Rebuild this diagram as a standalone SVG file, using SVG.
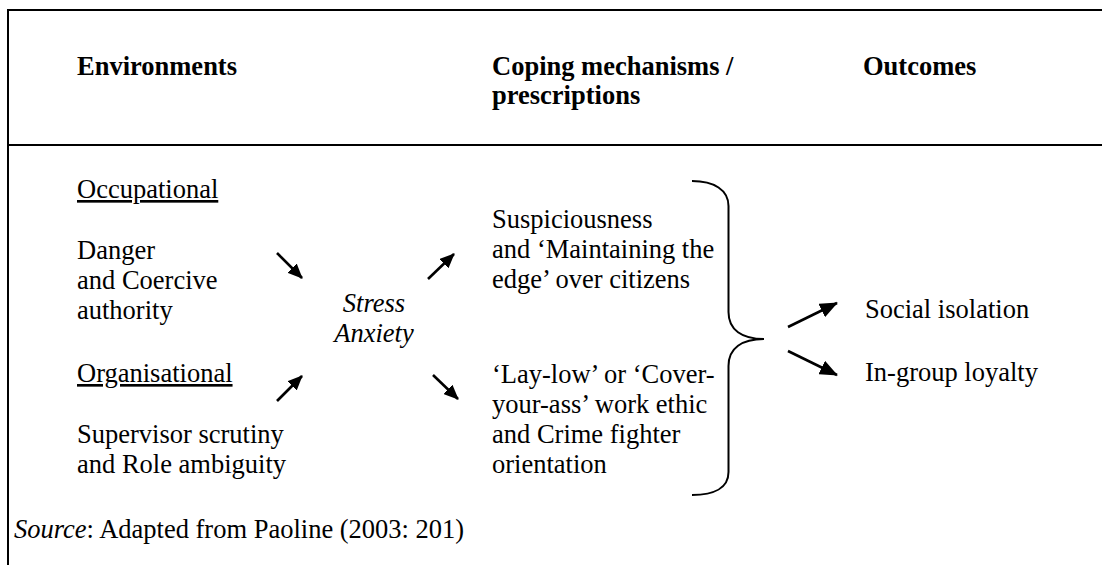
<svg xmlns="http://www.w3.org/2000/svg" width="1102" height="565" viewBox="0 0 1102 565">
  <style>
    text { font-family: "Liberation Serif", "Times New Roman", serif; font-size: 26.5px; fill: #000; }
    .hd { font-weight: bold; }
    .it { font-style: italic; }
    .ul { text-decoration: underline; }
    .rule { stroke: #000; stroke-width: 2; fill: none; }
    .arrow { stroke: #000; stroke-width: 2.6; fill: none; marker-end: url(#head); }
    .arrow-lg { stroke: #000; stroke-width: 2.6; fill: none; marker-end: url(#head-lg); }
  </style>
  <defs>
    <marker id="head" viewBox="0 0 15 13" refX="14" refY="6.5" markerWidth="15" markerHeight="13" markerUnits="userSpaceOnUse" orient="auto">
      <path d="M0,0 L15,6.5 L0,13 z" fill="#000"/>
    </marker>
    <marker id="head-lg" viewBox="0 0 18 15" refX="17" refY="7.5" markerWidth="18" markerHeight="15" markerUnits="userSpaceOnUse" orient="auto">
      <path d="M0,0 L18,7.5 L0,15 z" fill="#000"/>
    </marker>
  </defs>
  <rect width="1102" height="565" fill="#fff"/>

  <!-- table frame -->
  <g id="frame">
    <line class="rule" x1="7" y1="10" x2="1102" y2="10"/>
    <line class="rule" x1="8" y1="9" x2="8" y2="565"/>
    <line class="rule" x1="8" y1="145" x2="1102" y2="145"/>
  </g>

  <!-- column headings -->
  <g id="headings">
    <text class="hd" x="77" y="75">Environments</text>
    <text class="hd" x="492" y="75">Coping mechanisms /</text>
    <text class="hd" x="492" y="104">prescriptions</text>
    <text class="hd" x="863" y="75">Outcomes</text>
  </g>

  <g id="occupational">
    <text class="ul" x="77" y="198">Occupational</text>
    <text x="77" y="259">Danger</text>
    <text x="77" y="289">and Coercive</text>
    <text x="77" y="319">authority</text>
  </g>

  <g id="organisational">
    <text class="ul" x="77" y="382">Organisational</text>
    <text x="77" y="443">Supervisor scrutiny</text>
    <text x="77" y="473">and Role ambiguity</text>
  </g>

  <g id="stress">
    <text class="it" x="374" y="312" text-anchor="middle">Stress</text>
    <text class="it" x="374" y="342" text-anchor="middle">Anxiety</text>
  </g>

  <g id="suspiciousness">
    <text x="492" y="228">Suspiciousness</text>
    <text x="492" y="258">and ‘Maintaining the</text>
    <text x="492" y="288">edge’ over citizens</text>
  </g>

  <g id="laylow">
    <text x="492" y="383">‘Lay-low’ or ‘Cover-</text>
    <text x="492" y="413">your-ass’ work ethic</text>
    <text x="492" y="443">and Crime fighter</text>
    <text x="492" y="473">orientation</text>
  </g>

  <g id="social-isolation">
    <text x="865" y="318">Social isolation</text>
  </g>
  <g id="ingroup-loyalty">
    <text x="865" y="381">In-group loyalty</text>
  </g>

  <g id="source">
    <text x="14" y="538"><tspan class="it">Source</tspan>: Adapted from Paoline (2003: 201)</text>
  </g>

  <!-- connectors -->
  <g id="connectors">
    <line class="arrow" x1="277" y1="253" x2="302" y2="278"/>
    <line class="arrow" x1="277" y1="401" x2="302" y2="376"/>
    <line class="arrow" x1="428" y1="279" x2="454" y2="254"/>
    <line class="arrow" x1="433" y1="375" x2="458" y2="399"/>
    <path class="rule" d="M692,181 C714,181 728.5,190 728.5,206 L728.5,312 C728.5,330 742,339 764,339 C742,339 728.5,348 728.5,366 L728.5,472 C728.5,488 714,495 692,495"/>
    <line class="arrow-lg" x1="788" y1="327" x2="837" y2="303"/>
    <line class="arrow-lg" x1="788" y1="351" x2="837" y2="375"/>
  </g>
</svg>
